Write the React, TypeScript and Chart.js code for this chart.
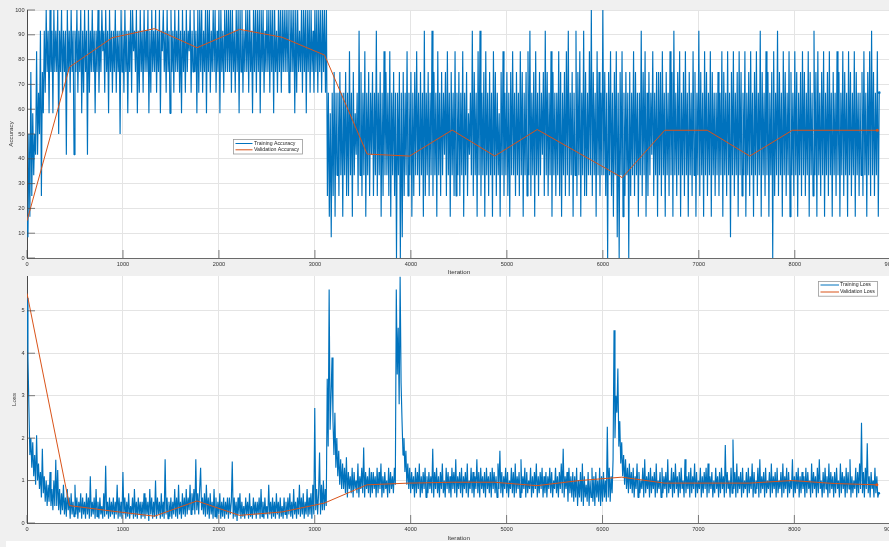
import React, { useEffect, useRef } from "react";
import { Chart, registerables } from "chart.js";
Chart.register(...registerables);

const FONT = '"Liberation Sans", Arial, Helvetica, sans-serif';
const BLUE = "#0072BD";
const ORANGE = "#D95319";

// ---- data ----
// training mini-batch accuracy: each char is a level index (0..c) in steps of 100/12 %,
// one sample every 10 iterations, 30 samples per 300-iteration chunk
const ACC_LEVEL_CHARS = "0123456789abc";
const ACC_LEVEL_PCT = 100 / 12;
const SAMPLE_STEP = 10;
const CHUNK_ITERS = 300;

const trainAccChunks = [
  "2162937465a586b397b8c9b7c9b7c9",
  "b9c6b9c8b9b5c9b8c9b5b9c8b9c7b8",
  "c9b5c8b9c9b7b9c8b9cab8c9b7c9b8",
  "b9c8b9b6c9b8c9b7b9c8cab9c7b8c9",
  "b8c9b9c7b8c9b9c8b9c7bac9b8c9b7",
  "c9b8c9b9c8b7c9b8c9bac8b9c9b7c8",
  "c9c8b9c7c9c8b9c9c8b9c7c9b8c9c9",
  "c9c8c9b8c9c7c9c8b9c9c8c9b7c9c8",
  "c9c7c9c8b9c9c8c9c7c9b8c9c8c9c9",
  "c9c8c9c9c7c8c9b9c8c9c7c9c8c9b8",
  "c9c8c9c8c9c8c38271839284839482",
  "849383a482947583b49384a2849385",
  "9384b3849283a49483a28493808490",
  "819384a384928394a4839482b38493",
  "84b39482a483948593a4829483a384",
  "9384a284937584b39482a4b38492a4",
  "839482a493847294a384938294a483",
  "9483a4928493a4b38492a483948593",
  "b49384a2948384a3928493a4b38492",
  "84b394a284b39384a4c39482a49384",
  "c4938094a38294a18094a283948093",
  "84a3948284b394a2839485a3849294",
  "93a4829483a492b48394a28493a482",
  "9483a49284b39482a49384a2948384",
  "9384a29483a48194a38492a49384a2",
  "8493a48294a384b29483a4928490a3",
  "84b39482a49384a29483a4928493a4",
  "9384a29483b492a48394a28493a482",
  "9483a49284a39482a49384a2948384",
  "93a48294a3b49384a28",
];

// training mini-batch loss, one sample every 10 iterations, 30 samples per 300-iteration chunk
const trainLossChunks = [
  [5.3, 3.9, 2.7, 1.6, 2.0, 1.3, 1.9, 1.1, 1.6, 0.9, 2.07, 1.0, 1.4, 0.8, 1.2, 0.6, 1.75, 0.7, 1.1, 0.5, 1.0, 0.4, 0.9, 0.5, 1.2, 0.4, 0.8, 0.3, 1.0, 0.4],
  [1.49, 0.4, 1.25, 0.3, 0.8, 0.2, 0.7, 0.3, 0.9, 0.2, 0.6, 0.15, 0.8, 0.3, 0.6, 0.1, 0.7, 0.2, 0.5, 0.15, 0.9, 0.2, 0.6, 0.1, 0.5, 0.25, 0.7, 0.1, 0.6, 0.2],
  [0.5, 0.1, 0.7, 0.2, 0.6, 0.1, 1.1, 0.15, 0.5, 0.2, 0.6, 0.1, 0.8, 0.15, 0.5, 0.1, 0.6, 0.2, 0.4, 0.1, 0.7, 0.15, 1.35, 0.2, 0.5, 0.1, 0.6, 0.15, 0.5, 0.2],
  [0.6, 0.1, 0.5, 0.2, 0.9, 0.1, 0.6, 0.15, 0.5, 0.1, 1.2, 0.2, 0.6, 0.1, 0.5, 0.15, 0.7, 0.1, 0.4, 0.2, 0.6, 0.1, 0.8, 0.15, 0.5, 0.1, 0.6, 0.2, 0.5, 0.1],
  [0.5, 0.15, 0.7, 0.1, 0.6, 0.2, 0.5, 0.05, 0.8, 0.2, 0.6, 0.1, 0.5, 0.15, 1.0, 0.1, 0.6, 0.2, 0.5, 0.1, 0.7, 0.15, 0.5, 0.1, 1.5, 0.2, 0.6, 0.1, 0.5, 0.15],
  [0.6, 0.1, 0.5, 0.2, 0.8, 0.15, 0.6, 0.1, 0.9, 0.2, 0.5, 0.1, 0.7, 0.2, 0.6, 0.15, 0.8, 0.2, 0.6, 0.3, 0.9, 0.2, 0.7, 0.3, 0.8, 0.2, 1.5, 0.3, 0.7, 0.2],
  [0.8, 1.3, 0.3, 0.6, 0.2, 0.7, 0.15, 0.9, 0.2, 0.6, 0.1, 0.7, 0.2, 0.5, 0.1, 0.8, 0.15, 0.6, 0.1, 0.5, 0.2, 0.7, 0.1, 0.5, 0.15, 0.6, 0.1, 0.5, 0.2, 0.6],
  [0.1, 0.6, 0.2, 0.5, 1.45, 0.1, 0.6, 0.15, 0.5, 0.05, 0.6, 0.2, 0.7, 0.1, 0.5, 0.15, 0.4, 0.1, 0.6, 0.2, 0.5, 0.1, 0.7, 0.15, 0.4, 0.1, 0.6, 0.2, 0.5, 0.1],
  [0.5, 0.2, 0.6, 0.1, 0.8, 0.15, 0.5, 0.1, 0.6, 0.2, 0.4, 0.1, 0.9, 0.2, 0.5, 0.1, 0.6, 0.15, 0.5, 0.1, 0.7, 0.2, 0.5, 0.1, 0.6, 0.15, 0.4, 0.1, 0.6, 0.2],
  [0.5, 0.1, 0.6, 0.2, 0.7, 0.15, 0.5, 0.1, 0.8, 0.2, 0.5, 0.1, 0.6, 0.2, 0.9, 0.15, 0.6, 0.2, 0.7, 0.1, 0.5, 0.2, 0.8, 0.15, 0.6, 0.2, 0.7, 0.1, 0.9, 0.2],
  [2.71, 0.3, 0.8, 0.2, 0.7, 1.66, 0.2, 0.9, 0.3, 1.0, 0.3, 0.8, 0.4, 3.4, 1.8, 5.5, 2.2, 3.0, 3.9, 2.4, 1.6, 2.6, 1.3, 2.0, 1.1, 1.7, 0.9, 1.5, 0.8, 1.4],
  [0.8, 1.3, 0.7, 1.55, 0.6, 1.2, 0.8, 1.1, 0.7, 1.3, 0.6, 1.2, 0.8, 1.0, 0.7, 1.4, 0.6, 1.1, 0.8, 1.3, 0.7, 1.78, 0.6, 1.2, 0.8, 1.1, 0.7, 1.3, 0.6, 1.2],
  [0.7, 1.2, 0.8, 1.1, 0.6, 1.3, 0.7, 1.2, 0.8, 1.4, 0.6, 1.1, 0.7, 1.2, 0.8, 1.0, 0.6, 1.3, 0.7, 1.2, 0.8, 1.1, 0.7, 1.3, 0.9, 5.5, 3.5, 4.6, 2.8, 5.8],
  [3.3, 2.4, 1.6, 2.0, 1.2, 1.7, 0.9, 1.4, 0.8, 1.3, 0.7, 1.2, 0.8, 1.1, 0.6, 1.3, 0.7, 1.2, 0.8, 1.4, 0.6, 1.1, 0.7, 1.2, 0.8, 1.3, 0.6, 1.1, 0.7, 1.2],
  [0.8, 1.1, 0.7, 1.75, 0.6, 1.2, 0.8, 1.3, 0.7, 1.1, 0.6, 1.2, 0.8, 1.4, 0.7, 1.0, 0.6, 1.3, 0.8, 1.2, 0.7, 1.1, 0.6, 1.3, 0.8, 1.2, 0.7, 1.5, 0.6, 1.1],
  [0.8, 1.2, 0.7, 1.3, 0.6, 1.1, 0.8, 1.2, 0.7, 1.4, 0.6, 1.0, 0.8, 1.3, 0.7, 1.2, 0.6, 1.1, 0.8, 1.5, 0.7, 1.2, 0.6, 1.3, 0.8, 1.1, 0.7, 1.2, 0.6, 1.3],
  [0.8, 1.1, 0.7, 1.2, 0.6, 1.3, 0.8, 1.2, 0.7, 1.1, 0.6, 1.4, 0.8, 1.7, 0.7, 1.2, 0.6, 1.1, 0.8, 1.3, 0.7, 1.2, 0.6, 1.0, 0.8, 1.3, 0.7, 1.2, 0.6, 1.4],
  [0.7, 1.1, 0.8, 1.2, 0.6, 1.5, 0.7, 1.1, 0.8, 1.3, 0.6, 1.2, 0.7, 1.0, 0.8, 1.3, 0.6, 1.1, 0.7, 1.2, 0.8, 1.4, 0.6, 1.1, 0.7, 1.2, 0.8, 1.3, 0.6, 1.1],
  [0.7, 1.2, 0.6, 1.1, 0.8, 1.3, 0.7, 1.2, 0.6, 1.0, 0.8, 1.3, 0.7, 1.1, 0.6, 1.2, 0.8, 1.4, 0.7, 1.75, 0.6, 1.1, 0.8, 1.2, 0.5, 1.3, 0.7, 1.1, 0.6, 1.2],
  [0.5, 1.1, 0.6, 1.3, 0.4, 1.0, 0.6, 1.2, 0.5, 1.4, 0.4, 1.1, 0.6, 0.9, 0.5, 1.2, 0.4, 1.0, 0.6, 1.3, 0.5, 1.1, 0.4, 1.2, 0.6, 1.0, 0.5, 1.3, 0.4, 1.1],
  [0.5, 1.2, 0.6, 1.0, 0.5, 2.27, 0.6, 1.3, 0.5, 1.1, 0.7, 1.5, 4.54, 2.0, 3.0, 2.6, 3.64, 1.8, 2.4, 1.4, 1.9, 1.1, 1.6, 0.9, 1.5, 0.8, 1.3, 0.7, 1.4, 0.8],
  [1.2, 0.7, 1.3, 0.6, 1.1, 0.8, 1.4, 0.6, 1.2, 0.7, 1.0, 0.8, 1.3, 0.6, 1.5, 0.7, 1.1, 0.8, 1.2, 0.6, 1.3, 0.7, 1.1, 0.8, 1.2, 0.6, 1.4, 0.7, 1.0, 0.8],
  [1.2, 0.6, 1.3, 0.7, 1.1, 0.8, 1.2, 0.6, 1.5, 0.7, 1.0, 0.8, 1.3, 0.6, 1.2, 0.7, 1.4, 0.8, 1.1, 0.6, 1.2, 0.7, 1.3, 0.8, 1.0, 0.6, 1.5, 0.7, 1.1, 0.8],
  [1.2, 0.6, 1.3, 0.7, 1.1, 0.8, 1.4, 0.6, 1.2, 0.7, 1.0, 0.8, 1.3, 0.6, 1.1, 0.7, 1.2, 0.8, 1.3, 0.6, 1.4, 0.7, 1.1, 0.8, 1.2, 0.6, 1.0, 0.7, 1.3, 0.8],
  [1.1, 0.6, 1.2, 0.7, 1.3, 0.8, 1.1, 0.6, 1.84, 0.7, 1.2, 0.8, 1.0, 0.6, 1.3, 0.7, 1.97, 0.8, 1.2, 0.6, 1.4, 0.7, 1.1, 0.8, 1.2, 0.6, 1.3, 0.7, 1.0, 0.8],
  [1.2, 0.6, 1.3, 0.7, 1.1, 0.8, 1.4, 0.6, 1.2, 0.7, 1.0, 0.8, 1.3, 0.6, 1.5, 0.7, 1.1, 0.8, 1.2, 0.6, 1.3, 0.7, 1.0, 0.8, 1.2, 0.6, 1.4, 0.7, 1.1, 0.8],
  [1.2, 0.6, 1.3, 0.7, 1.0, 0.8, 1.2, 0.6, 1.4, 0.7, 1.1, 0.8, 1.3, 0.6, 1.2, 0.7, 1.0, 0.8, 1.5, 0.6, 1.1, 0.7, 1.2, 0.8, 1.3, 0.6, 1.1, 0.7, 1.2, 0.8],
  [1.1, 0.6, 1.3, 0.7, 1.2, 0.8, 1.0, 0.6, 1.4, 0.7, 1.2, 0.8, 1.1, 0.6, 1.3, 0.7, 1.5, 0.8, 1.0, 0.6, 1.2, 0.7, 1.3, 0.8, 1.1, 0.6, 1.4, 0.7, 1.2, 0.8],
  [1.1, 0.6, 1.2, 0.7, 1.3, 0.8, 1.0, 0.6, 1.4, 0.7, 1.2, 0.8, 1.1, 0.6, 1.3, 0.7, 1.2, 0.8, 1.5, 0.6, 1.1, 0.7, 1.0, 0.8, 1.3, 0.6, 1.2, 0.7, 1.4, 0.8],
  [2.36, 0.7, 1.2, 0.6, 1.3, 0.8, 1.88, 0.7, 1.1, 0.6, 1.2, 0.8, 1.0, 0.6, 1.3, 0.7, 1.1, 0.6, 0.7],
];

const valIters = [0, 443, 886, 1329, 1772, 2215, 2658, 3101, 3544, 3987, 4430, 4873, 5316, 5759, 6202, 6645, 7088, 7531, 7974, 8417, 8860];
const valAcc = [15, 77, 88.8, 92.5, 84.8, 92.2, 89, 81.8, 41.9, 41.1, 51.6, 41.1, 51.8, 42.1, 32.4, 51.5, 51.5, 41.1, 51.5, 51.5, 51.5];
const valLoss = [5.41, 0.41, 0.28, 0.16, 0.52, 0.18, 0.26, 0.47, 0.9, 0.94, 0.96, 0.96, 0.88, 1.0, 1.08, 0.94, 0.94, 0.94, 1.0, 0.93, 0.9];

const iterTicks = [0, 1000, 2000, 3000, 4000, 5000, 6000, 7000, 8000, 9000];
const accTicks = [0, 10, 20, 30, 40, 50, 60, 70, 80, 90, 100];
const lossTicks = [0, 1, 2, 3, 4, 5];

// ---- build datasets ----
const trainAccPoints = trainAccChunks.flatMap((chunk, k) =>
  chunk.split("").map((c, j) => ({ x: k * CHUNK_ITERS + j * SAMPLE_STEP, y: ACC_LEVEL_CHARS.indexOf(c) * ACC_LEVEL_PCT }))
);
const trainLossPoints = trainLossChunks.flatMap((chunk, k) =>
  chunk.map((v, j) => ({ x: k * CHUNK_ITERS + j * SAMPLE_STEP, y: v }))
);
const valAccPoints = valIters.map((x, i) => ({ x, y: valAcc[i] }));
const valLossPoints = valIters.map((x, i) => ({ x, y: valLoss[i] }));

const plotBg = {
  id: "plotBg",
  beforeDraw(chart: any) {
    const { ctx, chartArea: a } = chart;
    ctx.save();
    ctx.fillStyle = "#ffffff";
    ctx.fillRect(a.left, a.top, a.right - a.left, a.bottom - a.top);
    ctx.restore();
  },
};

const innerTicks = {
  id: "innerTicks",
  afterDatasetsDraw(chart: any) {
    const { ctx, chartArea: a, scales } = chart;
    const len = 8;
    ctx.save();
    ctx.strokeStyle = "#4a4a4a";
    ctx.lineWidth = 0.7;
    ctx.beginPath();
    scales.x.ticks.forEach((t: any) => {
      const px = scales.x.getPixelForValue(t.value);
      ctx.moveTo(px, a.bottom);
      ctx.lineTo(px, a.bottom - len);
    });
    scales.y.ticks.forEach((t: any) => {
      const py = scales.y.getPixelForValue(t.value);
      ctx.moveTo(a.left, py);
      ctx.lineTo(a.left + len, py);
    });
    ctx.stroke();
    ctx.restore();
  },
};

const boxLegend = {
  id: "boxLegend",
  afterDraw(chart: any, _args: any, o: any) {
    const ctx = chart.ctx;
    ctx.save();
    ctx.fillStyle = "#ffffff";
    ctx.fillRect(o.x, o.y, o.w, o.h);
    ctx.strokeStyle = "#9a9a9a";
    ctx.lineWidth = 0.8;
    ctx.strokeRect(o.x + 0.5, o.y + 0.5, o.w, o.h);
    ctx.font = `${o.fontSize}px ${FONT}`;
    ctx.textBaseline = "middle";
    chart.data.datasets.forEach((ds: any, i: number) => {
      const cy = o.y + o.rowTop + i * o.rowGap;
      ctx.strokeStyle = ds.borderColor;
      ctx.lineWidth = 1;
      ctx.beginPath();
      ctx.moveTo(o.x + o.lineX0, cy);
      ctx.lineTo(o.x + o.lineX1, cy);
      ctx.stroke();
      ctx.fillStyle = "#262626";
      ctx.fillText(ds.label, o.x + o.textX, cy);
    });
    ctx.restore();
  },
};

function makeConfig(p: any) {
  const tickFont = { family: FONT, size: 5.6 };
  const titleFont = { family: FONT, size: 6.2 };
  const lastTrain = p.train.length - 1;
  const lastVal = p.val.length - 1;
  return {
    type: "line",
    data: {
      datasets: [
        {
          label: p.trainLabel,
          data: p.train,
          borderColor: BLUE,
          backgroundColor: BLUE,
          borderWidth: p.trainWidth,
          borderJoinStyle: "bevel",
          pointRadius: (c: any) => (c.dataIndex === lastTrain ? 1.3 : 0),
          pointBorderWidth: 0,
          tension: 0,
          order: 2,
        },
        {
          label: p.valLabel,
          data: p.val,
          borderColor: ORANGE,
          backgroundColor: ORANGE,
          borderWidth: 1,
          pointRadius: (c: any) => (c.dataIndex === lastVal ? 1.5 : 0),
          pointBorderWidth: 0,
          tension: 0,
          order: 1,
        },
      ],
    },
    options: {
      animation: false,
      responsive: false,
      parsing: false,
      normalized: true,
      events: [],
      layout: { padding: { top: 10, right: 8, left: 0, bottom: 0 } },
      plugins: {
        legend: { display: false },
        tooltip: { enabled: false },
        boxLegend: p.legend,
      },
      scales: {
        x: {
          type: "linear",
          min: 0,
          max: 9000,
          afterBuildTicks: (s: any) => {
            s.ticks = iterTicks.map((v) => ({ value: v }));
          },
          afterFit: (s: any) => {
            s.height = p.xAxisHeight;
          },
          grid: { color: "#e4e4e4", lineWidth: 1, drawTicks: false },
          border: { display: true, color: "#6a6a6a", width: 1 },
          ticks: {
            font: tickFont,
            color: "#333333",
            padding: p.xTickPad,
            maxRotation: 0,
            autoSkip: false,
            callback: (v: any) => String(v),
          },
          title: { display: true, text: "Iteration", font: titleFont, color: "#333333", padding: { top: 0, bottom: p.xTitlePad } },
        },
        y: {
          type: "linear",
          min: 0,
          max: p.yMax,
          afterBuildTicks: (s: any) => {
            s.ticks = p.yTicks.map((v: number) => ({ value: v }));
          },
          afterFit: (s: any) => {
            s.width = 27;
          },
          grid: { color: "#e4e4e4", lineWidth: 1, drawTicks: false },
          border: { display: true, color: "#4a4a4a", width: 1 },
          ticks: {
            font: tickFont,
            color: "#333333",
            padding: 2.5,
            autoSkip: false,
            callback: (v: any) => String(v),
          },
          title: { display: true, text: p.yTitle, font: titleFont, color: "#333333", padding: { top: p.yTitlePad, bottom: 0 } },
        },
      },
    },
    plugins: [plotBg, innerTicks, boxLegend],
  };
}

function ChartCanvas(props: { cfg: any; top: number; height: number }) {
  const ref = useRef<HTMLCanvasElement | null>(null);
  useEffect(() => {
    if (!ref.current) return;
    const chart = new Chart(ref.current, props.cfg);
    return () => chart.destroy();
  }, []);
  return (
    <canvas
      ref={ref}
      width={900}
      height={props.height}
      style={{ position: "absolute", left: 0, top: props.top, width: 900, height: props.height }}
    />
  );
}

const accConfig = makeConfig({
  train: trainAccPoints,
  val: valAccPoints,
  trainLabel: "Training Accuracy",
  valLabel: "Validation Accuracy",
  trainWidth: 1.15,
  yMax: 100,
  yTicks: accTicks,
  yTitle: "Accuracy",
  yTitlePad: 7.6,
  xAxisHeight: 20,
  xTickPad: 3,
  xTitlePad: 2.4,
  legend: { x: 233, y: 139, w: 69, h: 14.5, rowTop: 4.5, rowGap: 6.3, lineX0: 2.5, lineX1: 19.5, textX: 21, fontSize: 5.2 },
});

const lossConfig = makeConfig({
  train: trainLossPoints,
  val: valLossPoints,
  trainLabel: "Training Loss",
  valLabel: "Validation Loss",
  trainWidth: 1.15,
  yMax: 5.82,
  yTicks: lossTicks,
  yTitle: "Loss",
  yTitlePad: 11,
  xAxisHeight: 24,
  xTickPad: 3.5,
  xTitlePad: 5.4,
  legend: { x: 818, y: 15, w: 59, h: 14.7, rowTop: 4, rowGap: 7, lineX0: 2.5, lineX1: 21, textX: 22, fontSize: 5.2 },
});

export default function App() {
  useEffect(() => {
    document.body.style.margin = "0";
    document.body.style.overflow = "hidden";
  }, []);
  return (
    <div
      style={{
        position: "fixed",
        left: 0,
        top: 0,
        width: 889,
        height: 547,
        overflow: "hidden",
        background: "#f0f0f0",
      }}
    >
      <div style={{ position: "absolute", left: 6, top: 541, width: 883, height: 6, background: "#ffffff" }} />
      <ChartCanvas cfg={accConfig} top={0} height={278} />
      <ChartCanvas cfg={lossConfig} top={266} height={281} />
    </div>
  );
}
